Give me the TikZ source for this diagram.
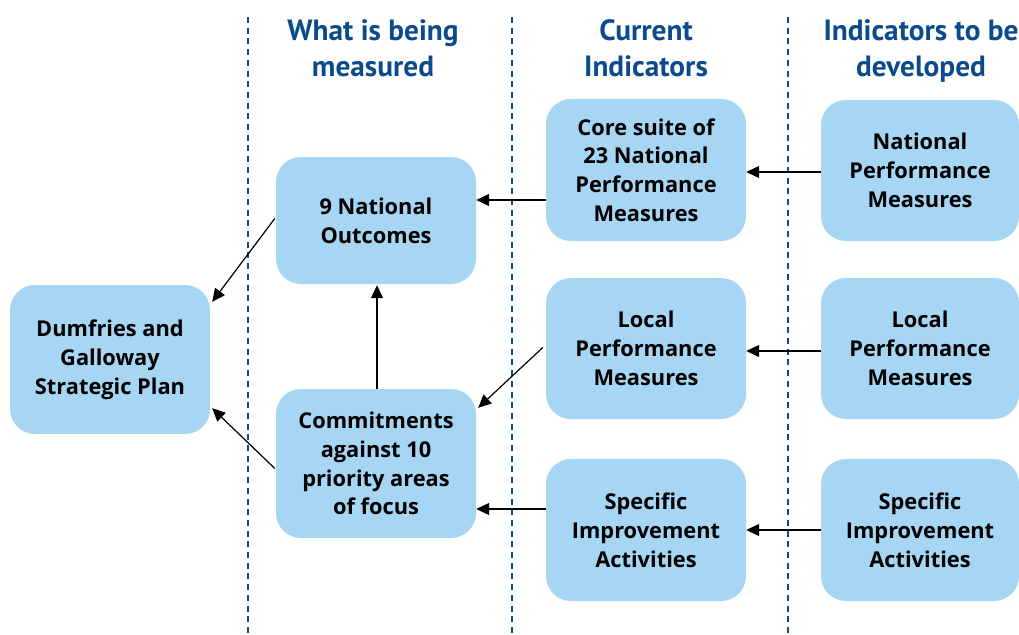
\documentclass[tikz,border=0pt]{standalone}
\usepackage{fontspec}
\setmainfont{Open Sans}
\newfontfamily\headfont{PT Sans}
\usetikzlibrary{arrows.meta,calc}
\definecolor{boxblue}{HTML}{A6D6F3}
\definecolor{navy}{HTML}{0B4A8B}
\begin{document}
\begin{tikzpicture}[x=1pt,y=-1pt,
  box/.style={fill=boxblue, rounded corners=25pt, inner sep=0pt, align=center,
    font=\bfseries\fontsize{21.8}{28.8}\selectfont},
  link/.style={-{Triangle[length=13pt,width=12pt]}, line width=1.2pt},
  divider/.style={navy, line width=2.4pt, dash pattern=on 6pt off 4.7pt},
  head/.style={navy, align=center, font=\headfont\bfseries\fontsize{29.3}{36}\selectfont}]
\useasboundingbox (0,0) rectangle (1019,634);

% column dividers
\draw[divider] (248,17) coordinate (d1) -- (248,634) coordinate (d1e);
\draw[divider] (512,17) coordinate (d2) -- (512,634) coordinate (d2e);
\draw[divider] (788,17) coordinate (d3) -- (788,634) coordinate (d3e);

% column headings
\node[head] (h1) at (373,51.5) {\strut What is being\\\strut measured};
\node[head] (h2) at (646,51.5) {\strut Current\\\strut Indicators};
\node[head] (h3) at (921,51.5) {\strut Indicators to be\\\strut developed};

% boxes
\node[box, minimum width=200pt, minimum height=149pt] (dum) at (110,359.5) {Dumfries and\\Galloway\\Strategic Plan};
\node[box, minimum width=200pt, minimum height=127pt] (out) at (376,220.5) {9 National\\Outcomes};
\node[box, minimum width=200pt, minimum height=149pt] (com) at (376,463.5) {Commitments\\against 10\\priority areas\\of focus};
\node[box, minimum width=200pt, minimum height=142pt] (core) at (646,170) {Core suite of\\23 National\\Performance\\Measures};
\node[box, minimum width=200pt, minimum height=141pt] (loc) at (646,348.5) {Local\\Performance\\Measures};
\node[box, minimum width=200pt, minimum height=142pt] (spec) at (646,530) {Specific\\Improvement\\Activities};
\node[box, minimum width=198pt, minimum height=141pt] (nat2) at (920,170.5) {National\\Performance\\Measures};
\node[box, minimum width=198pt, minimum height=141pt] (loc2) at (920,348.5) {Local\\Performance\\Measures};
\node[box, minimum width=198pt, minimum height=142pt] (spec2) at (920,530) {Specific\\Improvement\\Activities};

% connectors
\draw[link] (nat2.west |- 0,172) -- (core.east |- 0,172);
\draw[link] (core.west |- 0,200) -- (out.east |- 0,200);
\draw[link] (loc2.west |- 0,351) -- (loc.east |- 0,351);
\draw[link] (spec2.west |- 0,530) -- (spec.east |- 0,530);
\draw[link] (spec.west |- 0,509) -- (com.east |- 0,509);
\draw[link] ($(loc.west)+(-3,-1)$) -- ($(com.north east)+(2,19)$);
\draw[link] (com.north -| 377,0) -- ($(out.south -| 377,0)+(0,1)$);
\draw[link] ($(out.west)+(-1,-2)$) -- ($(dum.north east)+(2,17)$);
\draw[link] ($(com.west)+(-1,5)$) -- ($(dum.south east)+(2,-26)$);
\end{tikzpicture}
\end{document}
